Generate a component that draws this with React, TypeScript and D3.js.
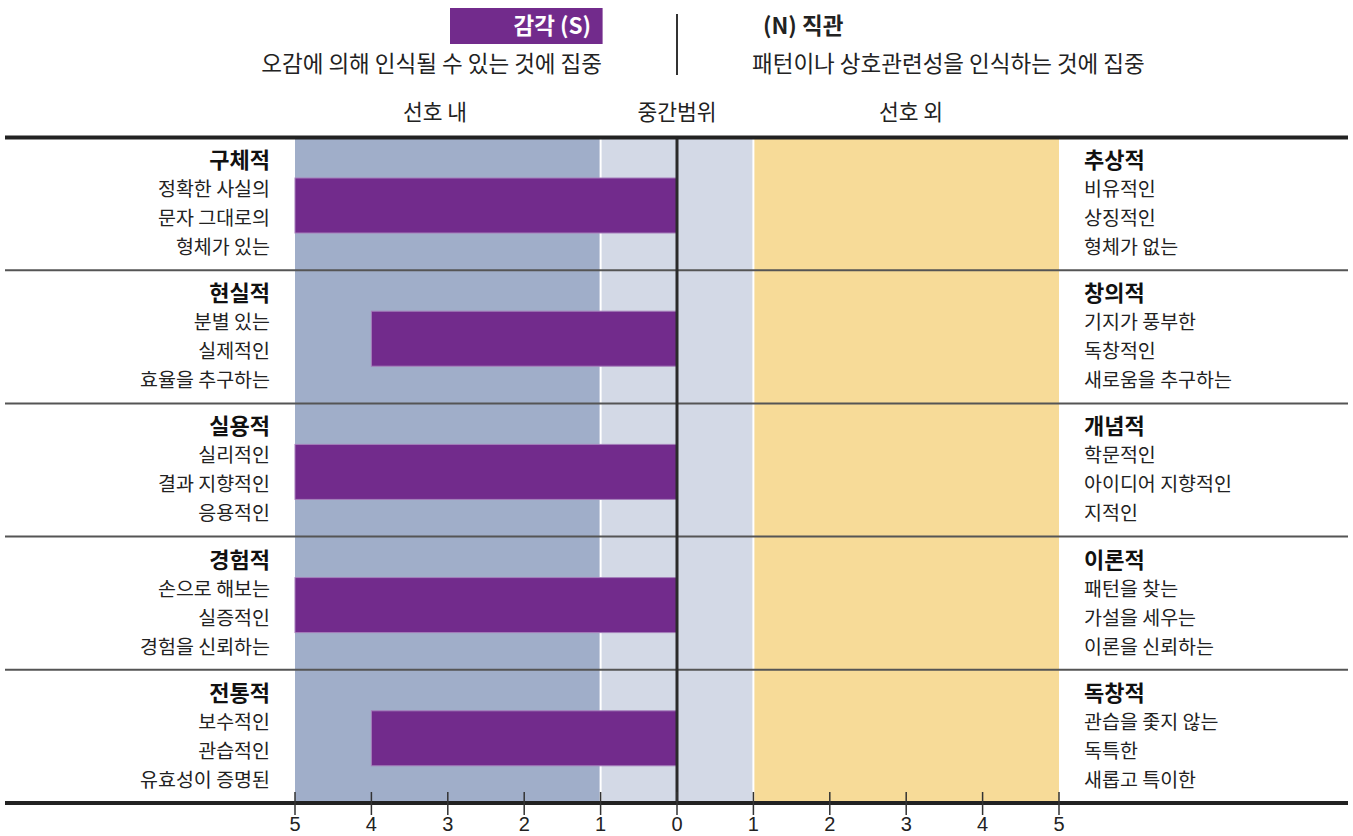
import React from "react";
import * as d3 from "d3";

const leftTitles = ["구체적", "현실적", "실용적", "경험적", "전통적"];
const leftLines = [
  ["정확한 사실의", "문자 그대로의", "형체가 있는"],
  ["분별 있는", "실제적인", "효율을 추구하는"],
  ["실리적인", "결과 지향적인", "응용적인"],
  ["손으로 해보는", "실증적인", "경험을 신뢰하는"],
  ["보수적인", "관습적인", "유효성이 증명된"],
];
const rightTitles = ["추상적", "창의적", "개념적", "이론적", "독창적"];
const rightLines = [
  ["비유적인", "상징적인", "형체가 없는"],
  ["기지가 풍부한", "독창적인", "새로움을 추구하는"],
  ["학문적인", "아이디어 지향적인", "지적인"],
  ["패턴을 찾는", "가설을 세우는", "이론을 신뢰하는"],
  ["관습을 좇지 않는", "독특한", "새롭고 특이한"],
];
const values = [5, 4, 5, 5, 4];
const ticks = [5, 4, 3, 2, 1, 0, -1, -2, -3, -4, -5];
const zoneLabels = ["선호 내", "중간범위", "선호 외"];

const W = 1353;
const H = 836;
const FONT = "'Noto Sans CJK KR', 'Noto Sans', sans-serif";

export default function App() {
  const x = d3.scaleLinear().domain([5, -5]).range([295, 1059]);
  const y = d3
    .scaleBand<number>()
    .domain(d3.range(values.length))
    .range([137, 803])
    .paddingInner(0)
    .paddingOuter(0);
  const barTop = 41;
  const barH = 55;
  const textFill = "#222";

  return (
    <svg
      width={W}
      height={H}
      style={{ position: "absolute", left: 0, top: 0, display: "block" }}
      fontFamily={FONT}
    >
      <rect x={0} y={0} width={W} height={H} fill="#fff" />
      {/* header */}
      <rect x={450} y={8} width={x(1) + 2 - 450} height={36} fill="#722b8c" />
      <text x={591} y={34} textAnchor="end" fill="#fff" fontSize={22.5} fontWeight="bold">
        감각 (S)
      </text>
      <text x={602} y={72} textAnchor="end" fill={textFill} fontSize={22.5}>
        오감에 의해 인식될 수 있는 것에 집중
      </text>
      <line x1={x(0)} x2={x(0)} y1={14} y2={75} stroke="#333" strokeWidth={2} />
      <text x={763} y={34} fill={textFill} fontSize={22.5} fontWeight="bold">
        (N) 직관
      </text>
      <text x={752} y={72} fill={textFill} fontSize={22.5}>
        패턴이나 상호관련성을 인식하는 것에 집중
      </text>
      {/* zone labels */}
      <text x={435} y={120} textAnchor="middle" fill={textFill} fontSize={21.5}>
        {zoneLabels[0]}
      </text>
      <text x={x(0)} y={120} textAnchor="middle" fill={textFill} fontSize={21.5}>
        {zoneLabels[1]}
      </text>
      <text x={911} y={120} textAnchor="middle" fill={textFill} fontSize={21.5}>
        {zoneLabels[2]}
      </text>

      {/* bands */}
      <rect x={x(5)} y={137} width={x(1) - x(5)} height={803 - 137} fill="#a0aec9" />
      <rect x={x(1)} y={137} width={x(-1) - x(1)} height={803 - 137} fill="#d3d9e6" />
      <rect x={x(-1)} y={137} width={x(-5) - x(-1)} height={803 - 137} fill="#f7db98" />
      <line x1={x(1)} x2={x(1)} y1={137} y2={803} stroke="#fff" strokeWidth={2} />
      <line x1={x(-1)} x2={x(-1)} y1={137} y2={803} stroke="#fff" strokeWidth={2} />

      {/* bars */}
      {values.map((v, i) => (
        <rect
          key={i}
          x={x(v)}
          y={(y(i) as number) + barTop}
          width={x(0) - x(v)}
          height={barH}
          fill="#722b8c"
          stroke="#a57fbb"
          strokeWidth={1}
        />
      ))}

      {/* row separators */}
      {d3.range(1, values.length).map((i) => (
        <line
          key={i}
          x1={5}
          x2={1348}
          y1={y(i) as number}
          y2={y(i) as number}
          stroke="#555"
          strokeWidth={2}
        />
      ))}
      {/* center line */}
      <line x1={x(0)} x2={x(0)} y1={137} y2={803} stroke="#2a2a2a" strokeWidth={3} />
      {/* top / bottom thick lines */}
      <line x1={5} x2={1348} y1={137.5} y2={137.5} stroke="#222" strokeWidth={4} />
      <line x1={5} x2={1348} y1={803} y2={803} stroke="#222" strokeWidth={4} />

      {/* labels */}
      {leftTitles.map((t, i) => {
        const top = y(i) as number;
        return (
          <g key={"l" + i}>
            <text x={270} y={top + 31} textAnchor="end" fill="#111" fontSize={22} fontWeight="bold">
              {t}
            </text>
            {leftLines[i].map((s, j) => (
              <text key={j} x={270} y={top + 59 + j * 29} textAnchor="end" fill={textFill} fontSize={19.5}>
                {s}
              </text>
            ))}
          </g>
        );
      })}
      {rightTitles.map((t, i) => {
        const top = y(i) as number;
        return (
          <g key={"r" + i}>
            <text x={1084} y={top + 31} fill="#111" fontSize={22} fontWeight="bold">
              {t}
            </text>
            {rightLines[i].map((s, j) => (
              <text key={j} x={1084} y={top + 59 + j * 29} fill={textFill} fontSize={19.5}>
                {s}
              </text>
            ))}
          </g>
        );
      })}

      {/* axis ticks */}
      {ticks.map((t, i) => (
        <g key={"t" + i}>
          <line x1={x(t)} x2={x(t)} y1={792} y2={815} stroke="#333" strokeWidth={1.5} />
          <text
            x={x(t)}
            y={831}
            textAnchor="middle"
            fill="#222"
            fontSize={20}
            fontFamily="'Liberation Sans', Arial, sans-serif"
          >
            {Math.abs(t)}
          </text>
        </g>
      ))}
    </svg>
  );
}
